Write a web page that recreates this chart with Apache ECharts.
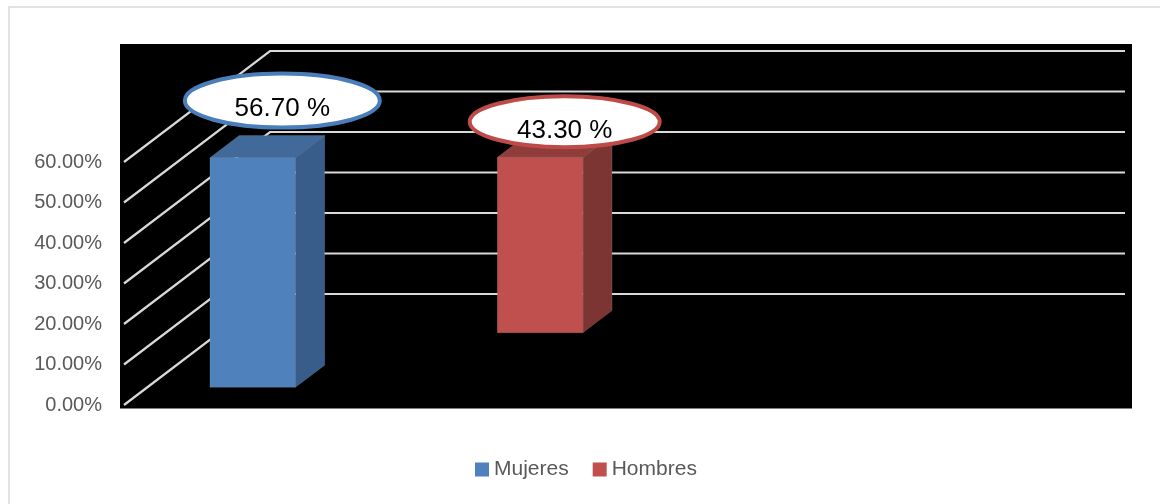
<!DOCTYPE html>
<html>
<head>
<meta charset="utf-8">
<style>
  html, body { margin: 0; padding: 0; background: #ffffff; }
  #chart { width: 1160px; height: 504px; }
</style>
<script src="https://cdn.jsdelivr.net/npm/echarts@6/dist/echarts.min.js"></script>
</head>
<body>
<div id="chart"></div>
<script>
// Share of respondents by sex
const seriesNames = ['Mujeres', 'Hombres'];
const seriesValues = [56.7, 43.3];
const yTicks = [0, 10, 20, 30, 40, 50, 60];

// Drawing constants (pixels / axis fractions)
const FONT = '"Liberation Sans", Arial, sans-serif';
const DEPTH = [146, -111];          // offset from front plane to back wall
const BAR_W = 0.1;                  // bar width as a fraction of the x range
const BAR_D = 0.2;                  // bar depth as a fraction of DEPTH
const frontColors = ['#4f81bd', '#c0504d'];
const sideColors = ['#385d8a', '#7d3533'];
const topColors = ['#41699a', '#8f3c3a'];
const ringColors = ['#4a7ebb', '#be4b48'];
// horizontal slot, depth slot and callout offset of each column
const slots = [
  { x: 0.0734, z: 0.159, callout: [15, -46], rx: 97.5, ry: 27, textDy: 8 },
  { x: 0.3255, z: 0.651, callout: [10, -24.5], rx: 95, ry: 25.5, textDy: 9 }
];

const chart = echarts.init(document.getElementById('chart'), null, { renderer: 'canvas' });

function gridRender(params, api) {
  const v = api.value(1);
  const a = api.coord([0, v]);
  const b = api.coord([1, v]);
  return {
    type: 'polyline',
    shape: { points: [a, [a[0] + DEPTH[0], a[1] + DEPTH[1]], [b[0] + DEPTH[0], b[1] + DEPTH[1]]] },
    style: { stroke: '#d9d9d9', lineWidth: 2.2, fill: null }
  };
}

function barRender(i) {
  return function (params, api) {
    const s = slots[i];
    const v = api.value(1);
    const dx = DEPTH[0] * s.z, dy = DEPTH[1] * s.z;
    const p0 = api.coord([s.x, 0]);
    const p1 = api.coord([s.x, v]);
    const w = api.size([BAR_W, 0])[0];
    const x0 = p0[0] + dx, yb = p0[1] + dy, yt = p1[1] + dy;
    const x1 = x0 + w;
    const ddx = DEPTH[0] * BAR_D, ddy = DEPTH[1] * BAR_D;
    const topCx = x0 + w / 2 + ddx / 2, topCy = yt + ddy / 2;
    const cx = topCx + s.callout[0], cy = topCy + s.callout[1];
    const edge = 'rgba(255,255,255,0.12)';
    return {
      type: 'group',
      children: [
        { type: 'polygon', shape: { points: [[x1, yb], [x1 + ddx, yb + ddy], [x1 + ddx, yt + ddy], [x1, yt]] },
          style: { fill: sideColors[i], stroke: edge, lineWidth: 1 } },
        { type: 'polygon', shape: { points: [[x0, yt], [x1, yt], [x1 + ddx, yt + ddy], [x0 + ddx, yt + ddy]] },
          style: { fill: topColors[i], stroke: edge, lineWidth: 1 } },
        { type: 'rect', shape: { x: x0, y: yt, width: w, height: yb - yt },
          style: { fill: frontColors[i], stroke: edge, lineWidth: 1 } },
        { type: 'ellipse', shape: { cx: cx, cy: cy, rx: s.rx, ry: s.ry },
          style: { fill: '#ffffff', stroke: ringColors[i], lineWidth: 4 } },
        { type: 'text',
          style: { text: v.toFixed(2) + ' %', x: cx, y: cy + s.textDy, align: 'center', verticalAlign: 'middle',
                   fill: '#000000', fontSize: 26, fontFamily: FONT } }
      ]
    };
  };
}

const series = [{
  type: 'custom',
  name: 'grid',
  silent: true,
  z: 1,
  renderItem: gridRender,
  data: yTicks.map(function (v) { return [0, v]; })
}];
seriesNames.forEach(function (name, i) {
  series.push({
    type: 'custom',
    name: name,
    z: 3 + i,
    itemStyle: { color: frontColors[i] },
    renderItem: barRender(i),
    data: [[i, seriesValues[i]]]
  });
});

chart.setOption({
  backgroundColor: '#ffffff',
  animation: false,
  graphic: [
    { type: 'rect', z: -10, silent: true, shape: { x: 9, y: 7, width: 1180, height: 520 },
      style: { fill: '#ffffff', stroke: '#d9d9d9', lineWidth: 1.5 } },
    { type: 'rect', z: -9, silent: true, shape: { x: 120, y: 44, width: 1012, height: 364.5 },
      style: { fill: '#000000' } }
  ],
  grid: { left: 124, top: 162, width: 855, height: 243 },
  xAxis: { type: 'value', min: 0, max: 1, show: false },
  yAxis: {
    type: 'value', min: 0, max: 60, interval: 10,
    axisLine: { show: false }, axisTick: { show: false }, splitLine: { show: false },
    axisLabel: {
      margin: 22, color: '#595959', fontSize: 20, fontFamily: FONT,
      formatter: function (v) { return v.toFixed(2) + '%'; }
    }
  },
  legend: {
    data: seriesNames,
    left: 470, top: 454,
    icon: 'rect', itemWidth: 14, itemHeight: 14, itemGap: 24,
    textStyle: { color: '#595959', fontSize: 21, fontFamily: FONT }
  },
  series: series
});
</script>
</body>
</html>
